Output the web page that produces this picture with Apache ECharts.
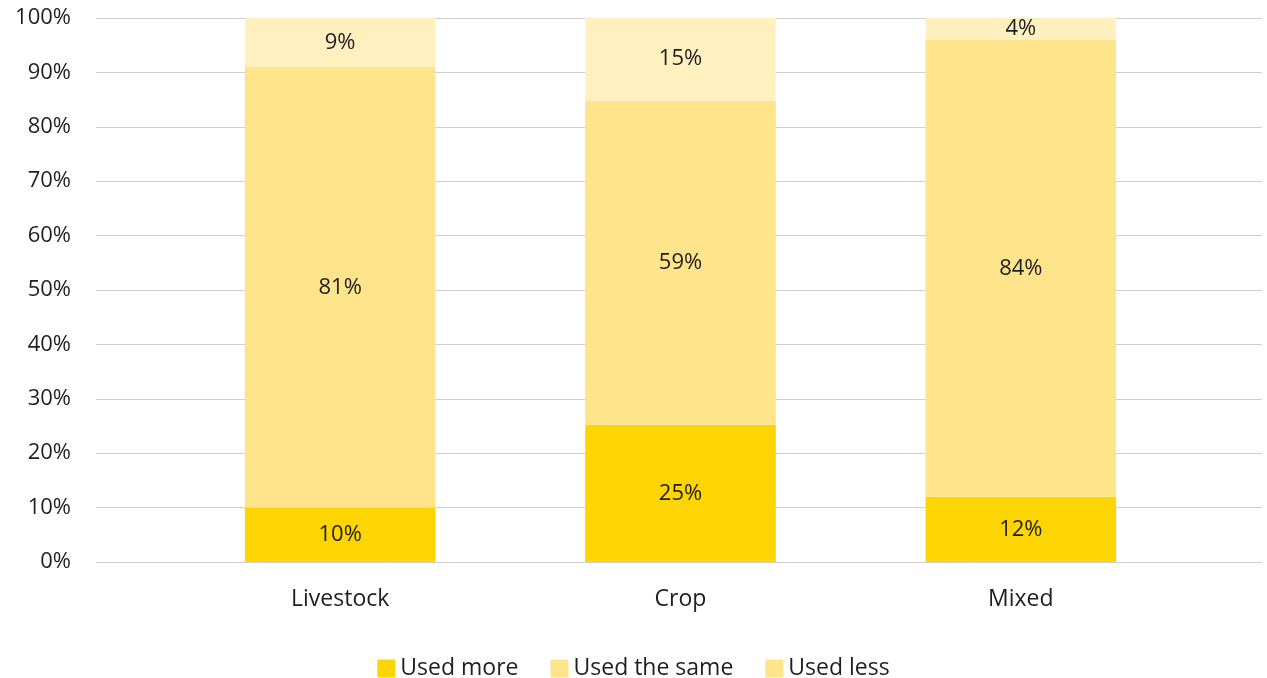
<!DOCTYPE html>
<html>
<head>
<meta charset="utf-8">
<script src="https://cdn.jsdelivr.net/npm/echarts@6/dist/echarts.min.js"></script>
<style>
  html, body { margin: 0; padding: 0; background: #fff; }
  #chart { width: 1267px; height: 678px; }
</style>
</head>
<body>
<div id="chart"></div>
<script>
// Share of respondents by farm type (percent labels as reported)
const categories = ['Livestock', 'Crop', 'Mixed'];
const usedMore = [10, 25, 12];
const usedSame = [81, 59, 84];
const usedLess = [9, 15, 4];
const yTicks = [0, 10, 20, 30, 40, 50, 60, 70, 80, 90, 100];

const colors = { more: '#FCD503', same: '#FEE48B', less: '#FFF0C0' };
const FONT = '"Open Sans", Lato, sans-serif';
const TEXT = '#1f1f1f';

// Each bar is stretched to 100% of its column total
const totals = categories.map((_, i) => usedMore[i] + usedSame[i] + usedLess[i]);
const toShare = (arr) => arr.map((v, i) => ({ value: v / totals[i] * 100, raw: v }));

function makeSeries(name, arr, color) {
  return {
    name: name,
    type: 'bar',
    stack: 'total',
    xAxisIndex: 1,
    yAxisIndex: 1,
    barWidth: '56%',
    data: toShare(arr),
    itemStyle: { color: color },
    label: {
      show: true,
      position: 'inside',
      color: TEXT,
      fontFamily: FONT,
      fontSize: 22,
      formatter: (p) => p.data.raw + '%'
    },
    emphasis: { disabled: true }
  };
}

const yMin = yTicks[0], yMax = yTicks[yTicks.length - 1];

const chart = echarts.init(document.getElementById('chart'), null, { renderer: 'canvas' });
chart.setOption({
  animation: false,
  backgroundColor: '#fff',
  // grid 0: full-width gridlines and tick labels; grid 1: narrower band for the bars
  grid: [
    { left: 96, right: 5, top: 18, bottom: 116, containLabel: false },
    { left: 170, right: 76, top: 18, bottom: 116, containLabel: false }
  ],
  legend: {
    top: 652,
    left: 'center',
    itemWidth: 18,
    itemHeight: 18,
    itemGap: 32,
    icon: 'rect',
    textStyle: { color: TEXT, fontFamily: FONT, fontSize: 23, padding: [0, 0, 0, 0] },
    data: [
      { name: 'Used more' },
      { name: 'Used the same' },
      { name: 'Used less', itemStyle: { color: colors.same } }
    ]
  },
  xAxis: [
    { type: 'category', gridIndex: 0, data: categories, show: false },
    {
      type: 'category',
      gridIndex: 1,
      data: categories,
      axisLine: { show: false },
      axisTick: { show: false },
      axisLabel: { color: TEXT, fontFamily: FONT, fontSize: 23, margin: 26 }
    }
  ],
  yAxis: [
    {
      type: 'value',
      gridIndex: 0,
      min: yMin,
      max: yMax,
      interval: 10,
      axisLine: { show: false },
      axisTick: { show: false },
      splitLine: { lineStyle: { color: '#D0D0D0', width: 1 } },
      axisLabel: { color: TEXT, fontFamily: FONT, fontSize: 22, margin: 25, formatter: '{value}%' }
    },
    {
      type: 'value',
      gridIndex: 1,
      min: yMin,
      max: yMax,
      interval: 10,
      show: false,
      splitLine: { show: false }
    }
  ],
  series: [
    makeSeries('Used more', usedMore, colors.more),
    makeSeries('Used the same', usedSame, colors.same),
    makeSeries('Used less', usedLess, colors.less)
  ]
});
</script>
</body>
</html>
